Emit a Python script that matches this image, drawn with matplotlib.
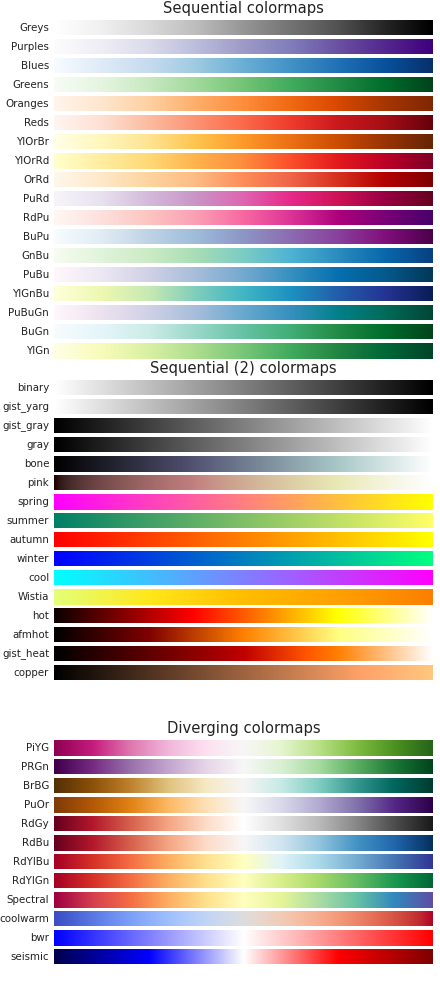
import numpy as np
import matplotlib
matplotlib.use("Agg")
import matplotlib.pyplot as plt

W, H, DPI = 440, 981, 72

sequential = ["Greys", "Purples", "Blues", "Greens", "Oranges", "Reds",
              "YlOrBr", "YlOrRd", "OrRd", "PuRd", "RdPu", "BuPu",
              "GnBu", "PuBu", "YlGnBu", "PuBuGn", "BuGn", "YlGn"]
sequential2 = ["binary", "gist_yarg", "gist_gray", "gray", "bone", "pink",
               "spring", "summer", "autumn", "winter", "cool", "Wistia",
               "hot", "afmhot", "gist_heat", "copper"]
diverging = ["PiYG", "PRGn", "BrBG", "PuOr", "RdGy", "RdBu",
             "RdYlBu", "RdYlGn", "Spectral", "coolwarm", "bwr", "seismic"]

groups = [("Sequential", sequential, 20),
          ("Sequential (2)", sequential2, 380),
          ("Diverging", diverging, 740)]

gradient = np.linspace(0, 1, 256)
gradient = np.vstack((gradient, gradient))

fig = plt.figure(figsize=(W / DPI, H / DPI), dpi=DPI)
fig.patch.set_facecolor("white")

X0, X1 = 54, 433      # bar extent in px
BAR_H, PITCH = 15.5, 19

for title, names, top in groups:
    for i, name in enumerate(names):
        y = top + i * PITCH
        ax = fig.add_axes([X0 / W, 1 - (y + BAR_H) / H, (X1 - X0) / W, BAR_H / H])
        ax.imshow(gradient, aspect="auto", cmap=plt.get_cmap(name))
        ax.set_axis_off()
        if i == 0:
            ax.set_title(title + " colormaps", fontsize=14.7, pad=6.5,
                         color="#222222")
        pos = ax.get_position().bounds
        fig.text(pos[0] - 0.011, pos[1] + pos[3] / 2, name,
                 va="center", ha="right", fontsize=10.3, color="#222222")

fig.savefig("out.png", dpi=DPI)
